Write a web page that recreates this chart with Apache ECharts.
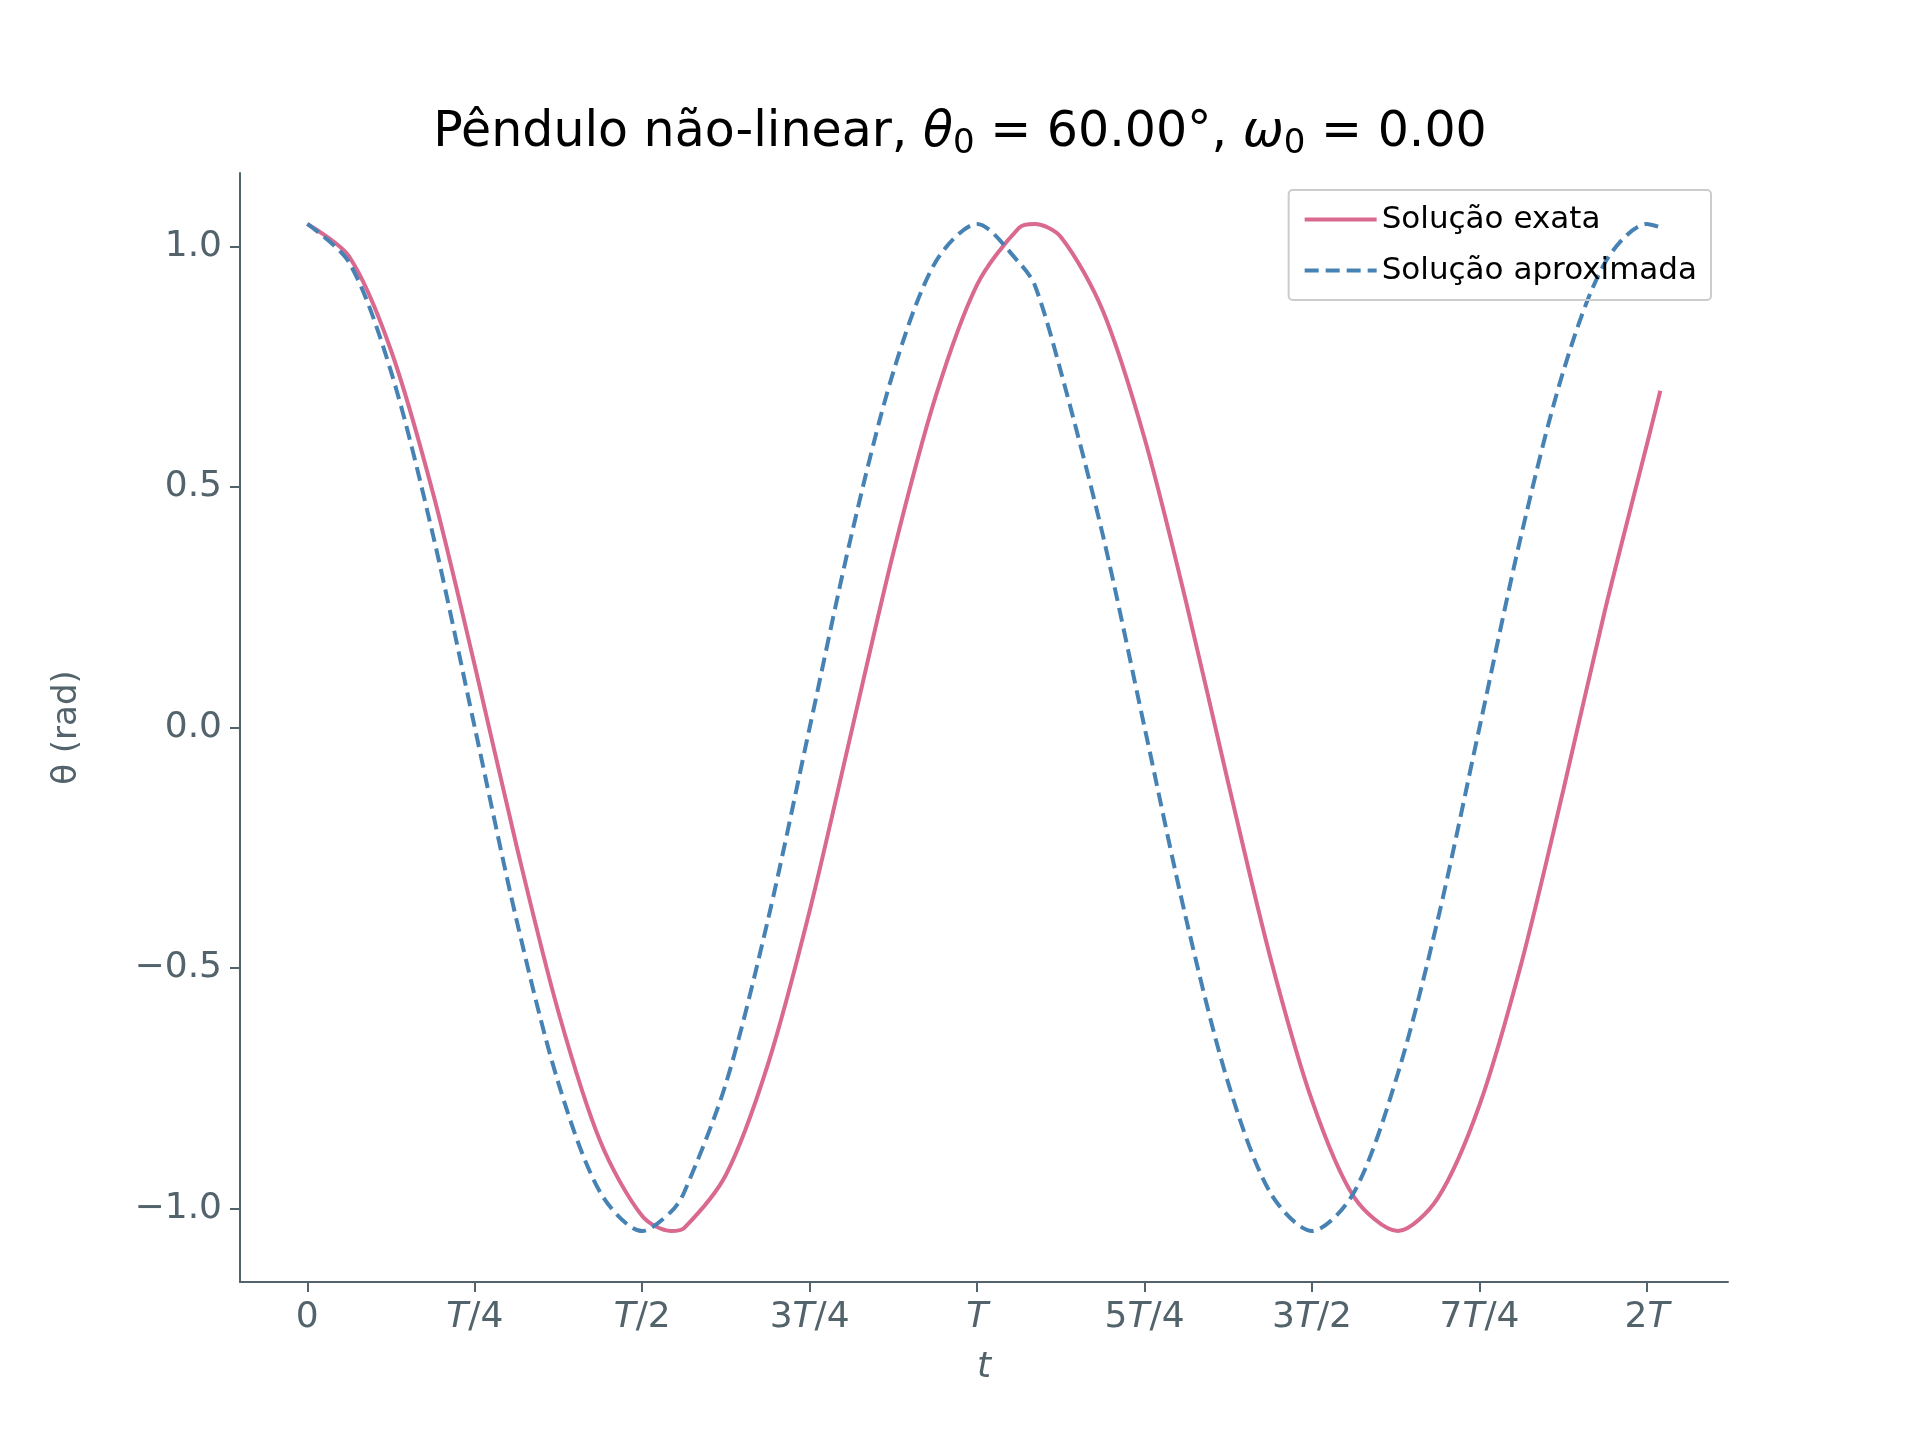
<!DOCTYPE html>
<html><head><meta charset="utf-8">
<script src="https://cdn.jsdelivr.net/npm/echarts@6/dist/echarts.min.js"></script>
<style>html,body{margin:0;background:#fff}#c{width:1920px;height:1440px}</style>
</head><body><div id="c"></div>
<script>
// t in units of the small-angle period T
var tVals = [0,0.0625,0.125,0.1875,0.25,0.3125,0.375,0.4375,0.5,0.543,0.5625,0.625,0.6875,0.75,0.8125,0.875,0.9375,1,1.0625,1.086,1.125,1.1875,1.25,1.3125,1.375,1.4375,1.5,1.5625,1.628,1.6875,1.75,1.8125,1.875,1.9375,2,2.02];
var exata = [1.047,0.979,0.784,0.488,0.129,-0.247,-0.592,-0.861,-1.016,-1.047,-1.041,-0.930,-0.701,-0.381,-0.008,0.364,0.686,0.921,1.039,1.047,1.020,0.867,0.601,0.258,-0.116,-0.477,-0.776,-0.976,-1.047,-0.979,-0.785,-0.490,-0.131,0.245,0.589,0.70];
var aprox = [1.047,0.967,0.740,0.401,0,-0.401,-0.740,-0.967,-1.047,-1.007,-0.967,-0.740,-0.401,0,0.401,0.740,0.967,1.047,0.967,0.920,0.740,0.401,0,-0.401,-0.740,-0.967,-1.047,-0.967,-0.720,-0.401,0,0.401,0.740,0.967,1.047,1.040];
var xTicks = [0,0.25,0.5,0.75,1,1.25,1.5,1.75,2];
var xLabels = ['0','T/4','T/2','3T/4','T','5T/4','3T/2','7T/4','2T'];
var yTicks = [-1,-0.5,0,0.5,1];

function pairs(v){ return tVals.map(function(t,i){ return [t, v[i]]; }); }
var axisCol = '#52636b';
var chart = echarts.init(document.getElementById('c'));
chart.setOption({
  animation:false,
  textStyle:{fontFamily:'DejaVu Sans'},
  title:{
    text:'Pêndulo não-linear, {i|θ}{s|0}{n| = 60.00°, }{i|ω}{s|0}{n| = 0.00}',
    left:'center', top:100,
    textStyle:{fontSize:49,fontWeight:'normal',color:'#000',
      rich:{i:{fontSize:49,fontStyle:'italic',color:'#000'},s:{fontSize:34,verticalAlign:'bottom',padding:[22,0,0,0],color:'#000'},n:{fontSize:49,color:'#000'}}}
  },
  legend:{
    right:209, top:190, orient:'vertical', itemGap:20, itemWidth:72, itemHeight:14,
    padding:[14,14,14,14], borderColor:'#ccc', borderWidth:2, borderRadius:4,
    textStyle:{fontSize:31,color:'#000'},
    itemStyle:{opacity:0},
    lineStyle:{width:4},
    data:['Solução exata','Solução aproximada']
  },
  grid:{left:240, right:192, top:173, bottom:158},
  xAxis:{
    type:'value', min:-0.1005, max:2.121, name:'t', nameLocation:'middle', nameGap:68,
    nameTextStyle:{fontSize:36,fontStyle:'italic',color:axisCol},
    splitLine:{show:false},
    axisLine:{onZero:false,lineStyle:{color:axisCol,width:2}},
    axisTick:{customValues:xTicks,length:10,lineStyle:{color:axisCol,width:2}},
    axisLabel:{customValues:xTicks,fontSize:36,color:axisCol,margin:18,
      formatter:function(v){ var i=xTicks.indexOf(Math.round(v*100)/100); var s=i<0?'':xLabels[i];
        return s.replace(/T/g,'{i|T}'); },
      rich:{i:{fontStyle:'italic',fontSize:36,color:axisCol}}}
  },
  yAxis:{
    type:'value', min:-1.153, max:1.153, name:'θ (rad)', nameLocation:'middle', nameGap:156,
    nameTextStyle:{fontSize:34,color:axisCol},
    splitLine:{show:false},
    axisLine:{show:true,onZero:false,lineStyle:{color:axisCol,width:2}},
    axisTick:{show:true,customValues:yTicks,length:10,lineStyle:{color:axisCol,width:2}},
    axisLabel:{customValues:yTicks,fontSize:36,color:axisCol,margin:18,
      formatter:function(v){ return (v<0?'−':'')+Math.abs(v).toFixed(1); }}
  },
  series:[
    {name:'Solução exata',type:'line',data:pairs(exata),smooth:0.3,showSymbol:false,
     lineStyle:{color:'#d9698f',width:4},itemStyle:{color:'#d9698f'}},
    {name:'Solução aproximada',type:'line',data:pairs(aprox),smooth:0.3,showSymbol:false,
     lineStyle:{color:'#4682b4',width:4,type:[14,7]},itemStyle:{color:'#4682b4'}}
  ]
});
</script></body></html>
